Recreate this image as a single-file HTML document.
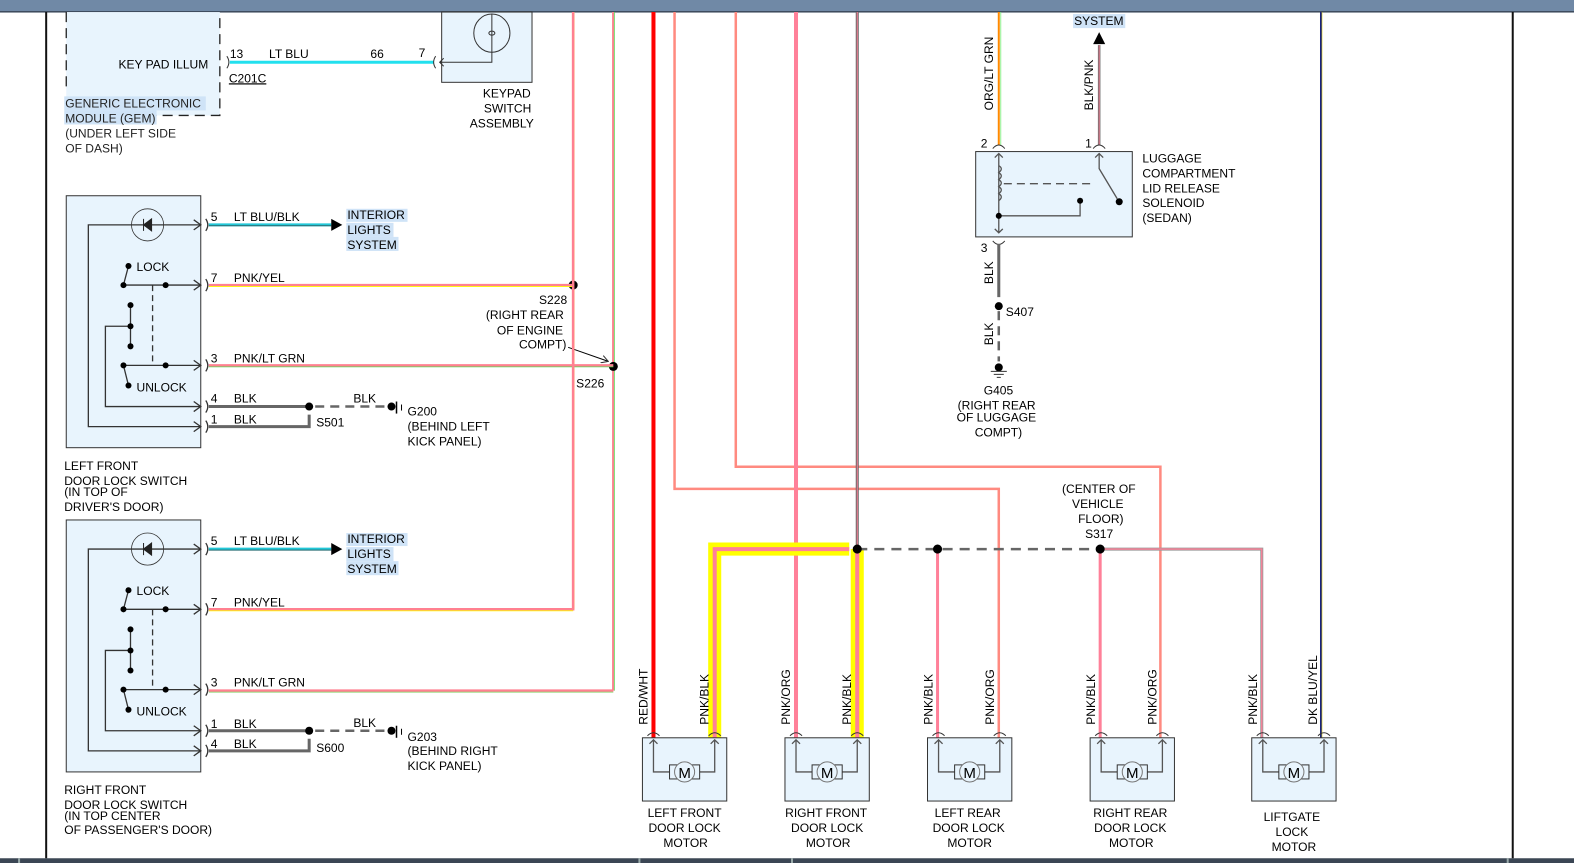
<!DOCTYPE html>
<html><head><meta charset="utf-8"><style>
html,body{margin:0;padding:0;background:#fff}
svg{display:block;font-family:"Liberation Sans",sans-serif;font-size:12px}
</style></head><body>
<svg width="1574" height="863" viewBox="0 0 1574 863" xmlns="http://www.w3.org/2000/svg">
<defs>
<marker id="ar" markerWidth="8" markerHeight="8" refX="7" refY="4" orient="auto"><path d="M0,0 L7,4 L0,8" fill="none" stroke="#333" stroke-width="1"/></marker>
</defs>
<rect width="1574" height="863" fill="#fff"/>
<g transform="scale(1.0038)">
<rect x="0" y="0" width="1574" height="12" fill="#7089a6"/>
<rect x="0" y="11" width="1574" height="1.5" fill="#3c4a5c"/>
<rect x="0" y="855" width="1574" height="10" fill="#3b4654"/>
<g stroke="#9aa" stroke-width="2"><line x1="637" y1="855" x2="637" y2="863"/><line x1="789" y1="855" x2="789" y2="863"/><line x1="1502" y1="855" x2="1502" y2="863"/><line x1="19" y1="855" x2="19" y2="863"/></g>
<line x1="46" y1="12" x2="46" y2="855" stroke="#111" stroke-width="2"/>
<line x1="1507" y1="12" x2="1507" y2="855" stroke="#111" stroke-width="2"/>
<line x1="1316" y1="12" x2="1316" y2="735" stroke="#1a237e" stroke-width="2"/>
<line x1="1317" y1="12" x2="1317" y2="735" stroke="#e0d000" stroke-width="0.6"/>

<!-- GEM -->
<rect x="66" y="12" width="153" height="103" fill="#e8f4fd"/>
<path d="M66 12 V92 M66 115 H219 V12" fill="none" stroke="#222" stroke-dasharray="10,6" stroke-width="1.3"/>
<text x="118" y="68">KEY PAD ILLUM</text>
<g fill="#222"><rect x="64" y="96" width="141" height="14" fill="#cfe3f7"/><rect x="64" y="110" width="92" height="14" fill="#cfe3f7"/>
<text x="65" y="107">GENERIC ELECTRONIC</text><text x="65" y="122">MODULE (GEM)</text><text x="65" y="137">(UNDER LEFT SIDE</text><text x="65" y="152">OF DASH)</text></g>
<line x1="229" y1="62" x2="432" y2="62" stroke="#22e0ee" stroke-width="3"/>
<path d="M226 56 q4 6 0 12 M434 56 q-4 6 0 12" fill="none" stroke="#333"/>
<text x="229" y="58">13</text><text x="268" y="58">LT BLU</text><text x="369" y="58">66</text><text x="417" y="57">7</text>
<text x="228" y="82" text-decoration="underline">C201C</text>
<rect x="440" y="12" width="90" height="70" fill="#e8f4fd" stroke="#333"/>
<ellipse cx="490" cy="33" rx="18" ry="19" fill="none" stroke="#333"/>
<path d="M490 14 V62 H438 M442 58 L438 62 L442 66" fill="none" stroke="#333"/>
<ellipse cx="490" cy="33" rx="3" ry="2" fill="none" stroke="#333"/>
<text x="481" y="97">KEYPAD</text><text x="482" y="112">SWITCH</text><text x="468" y="127">ASSEMBLY</text>

<!-- long verticals -->
<line x1="571" y1="12" x2="571" y2="607" stroke="#ff9080" stroke-width="2.5"/><line x1="572" y1="12" x2="572" y2="607" stroke="#ff0" stroke-width="0.7"/>
<line x1="611" y1="12" x2="611" y2="688" stroke="#ff8090" stroke-width="2.5"/><line x1="612" y1="12" x2="612" y2="688" stroke="#5d5" stroke-width="0.8"/>
<line x1="651" y1="12" x2="651" y2="735" stroke="#f00" stroke-width="4"/>
<path d="M672 12 V487 H995 V735" fill="none" stroke="#ff8a80" stroke-width="2.5"/>
<path d="M733 12 V465 H1156 V735" fill="none" stroke="#ff8a80" stroke-width="2.5"/>
<line x1="793" y1="12" x2="793" y2="735" stroke="#ff8099" stroke-width="4"/>
<line x1="854" y1="12" x2="854" y2="547" stroke="#666" stroke-width="3"/><line x1="854" y1="12" x2="854" y2="547" stroke="#ff8099" stroke-width="1"/>

<!-- yellow highlight -->
<path d="M846 547 H712 V735 M854 547 V735" fill="none" stroke="#ff0" stroke-width="13"/>
<path d="M846 547 H712 V735 M854 547 V735" fill="none" stroke="#ff8099" stroke-width="4"/>
<line x1="854" y1="547" x2="1096" y2="547" stroke="#666" stroke-width="2.5" stroke-dasharray="10,7"/>
<path d="M934 547 V735 M1096 547 V735" stroke="#ff8099" stroke-width="3"/>
<path d="M1100 547 H1257 V735" fill="none" stroke="#999" stroke-width="3"/><path d="M1100 547 H1257 V735" fill="none" stroke="#ff8099" stroke-width="1.3"/>
<g fill="#000"><circle cx="854" cy="547" r="4.5"/><circle cx="934" cy="547" r="4.5"/><circle cx="1096" cy="547" r="4.5"/><circle cx="571" cy="284" r="4.5"/><circle cx="611" cy="365" r="4.5"/></g>
<text x="1058" y="491">(CENTER OF</text><text x="1068" y="506">VEHICLE</text><text x="1074" y="521">FLOOR)</text><text x="1081" y="536">S317</text>
<text x="537" y="303">S228</text><text x="484" y="318">(RIGHT REAR</text><text x="495" y="333">OF ENGINE</text><text x="517" y="347">COMPT)</text>
<line x1="566" y1="346" x2="606" y2="360" stroke="#000" marker-end="url(#ar)"/>
<text x="574" y="386">S226</text>

<!-- switches -->
<g id="sw">
<rect x="66" y="195" width="134" height="251" fill="#e8f4fd" stroke="#333"/>
<g fill="none" stroke="#333" stroke-width="1.3">
<path d="M200 224 H88 V425 H200" /><path d="M200 405 H105 V325 H130"/>
<path d="M193 219 L200 224 L193 229 M193 279 L200 284 L193 289 M193 359 L200 364 L193 369 M193 400 L200 405 L193 410 M193 420 L200 425 L193 430"/>
<circle cx="147" cy="224" r="16" stroke-width="0.8"/>
<path d="M123 284 H200 M123 364 H200 M130 304 V345 M123 284 L128 265 M123 364 L128 384"/>
<path d="M152 284 V364" stroke-dasharray="6,4"/>
<path d="M205 218 q4 6 0 12 M205 278 q4 6 0 12 M205 358 q4 6 0 12 M205 399 q4 6 0 12 M205 419 q4 6 0 12"/>
</g>
<path d="M143 218 V230 M143 224 L151 218 V230 Z" fill="#222" stroke="#222"/>
<g fill="#000"><circle cx="128" cy="265" r="3"/><circle cx="123" cy="284" r="3"/><circle cx="165" cy="284" r="3"/><circle cx="130" cy="304" r="3"/><circle cx="130" cy="325" r="3"/><circle cx="130" cy="345" r="3"/><circle cx="123" cy="364" r="3"/><circle cx="165" cy="364" r="3"/><circle cx="128" cy="384" r="3"/></g>
<text x="136" y="270">LOCK</text><text x="136" y="390">UNLOCK</text>
<line x1="208" y1="224" x2="330" y2="224" stroke="#22c8d8" stroke-width="3"/><line x1="208" y1="225" x2="330" y2="225" stroke="#333" stroke-width="0.6"/>
<path d="M330 218 L341 224 L330 230 Z" fill="#000"/>
<rect x="345" y="208" width="61" height="13" fill="#cfe3f7"/><rect x="345" y="222" width="47" height="14" fill="#cfe3f7"/><rect x="345" y="236" width="52" height="14" fill="#cfe3f7"/>
<text x="346" y="218">INTERIOR</text><text x="346" y="233">LIGHTS</text><text x="346" y="248">SYSTEM</text>
<text x="210" y="220">5</text><text x="233" y="220">LT BLU/BLK</text>
<text x="210" y="281">7</text><text x="233" y="281">PNK/YEL</text>
<text x="210" y="361">3</text><text x="233" y="361">PNK/LT GRN</text>
<line x1="395" y1="400" x2="395" y2="412" stroke="#000" stroke-width="1.5"/><line x1="400" y1="403" x2="400" y2="409" stroke="#000"/>
</g>
<!-- LF specific -->
<line x1="208" y1="284" x2="571" y2="284" stroke="#ff8090" stroke-width="2.5"/><line x1="208" y1="285.5" x2="571" y2="285.5" stroke="#ff0" stroke-width="0.8"/>
<line x1="208" y1="364" x2="611" y2="364" stroke="#ff8090" stroke-width="2.5"/><line x1="208" y1="365.5" x2="611" y2="365.5" stroke="#5d5" stroke-width="0.8"/>
<path d="M208 405 H308 M208 425 H308 V413" fill="none" stroke="#666" stroke-width="3"/>
<line x1="314" y1="405" x2="390" y2="405" stroke="#666" stroke-width="2.5" stroke-dasharray="9,6"/>
<circle cx="308" cy="405" r="4" fill="#000"/><circle cx="390" cy="405" r="4" fill="#000"/>
<text x="210" y="401">4</text><text x="233" y="401">BLK</text><text x="210" y="422">1</text><text x="233" y="422">BLK</text>
<text x="352" y="401">BLK</text><text x="315" y="425">S501</text>
<text x="406" y="414">G200</text><text x="406" y="429">(BEHIND LEFT</text><text x="406" y="444">KICK PANEL)</text>
<text x="64" y="468">LEFT FRONT</text><text x="64" y="483">DOOR LOCK SWITCH</text><text x="64" y="494">(IN TOP OF</text><text x="64" y="509">DRIVER'S DOOR)</text>

<use href="#sw" transform="translate(0,323)"/>
<path d="M208 607 H571 V12" fill="none" stroke="#ff8090" stroke-width="2.5"/><line x1="208" y1="608.5" x2="571" y2="608.5" stroke="#ff0" stroke-width="0.8"/>
<path d="M208 688 H611" fill="none" stroke="#ff8090" stroke-width="2.5"/><line x1="208" y1="689.5" x2="611" y2="689.5" stroke="#7c5" stroke-width="0.8"/>
<path d="M208 728 H308 M208 748 H308 V736" fill="none" stroke="#666" stroke-width="3"/>
<line x1="314" y1="728" x2="390" y2="728" stroke="#666" stroke-width="2.5" stroke-dasharray="9,6"/>
<circle cx="308" cy="728" r="4" fill="#000"/><circle cx="390" cy="728" r="4" fill="#000"/>
<text x="210" y="725">1</text><text x="233" y="725">BLK</text><text x="210" y="745">4</text><text x="233" y="745">BLK</text>
<text x="352" y="724">BLK</text><text x="315" y="749">S600</text>
<text x="406" y="738">G203</text><text x="406" y="752">(BEHIND RIGHT</text><text x="406" y="767">KICK PANEL)</text>
<text x="64" y="791">RIGHT FRONT</text><text x="64" y="806">DOOR LOCK SWITCH</text><text x="64" y="817">(IN TOP CENTER</text><text x="64" y="831">OF PASSENGER'S DOOR)</text>

<!-- solenoid -->
<line x1="995" y1="12" x2="995" y2="145" stroke="#ff8a00" stroke-width="2"/><line x1="997" y1="12" x2="997" y2="145" stroke="#7e7" stroke-width="0.8"/>
<line x1="1095" y1="45" x2="1095" y2="145" stroke="#666" stroke-width="2.5"/><line x1="1095" y1="45" x2="1095" y2="145" stroke="#ff8099" stroke-width="0.9"/>
<path d="M1089 44 L1095 32 L1101 44 Z" fill="#000"/>
<rect x="1069" y="14" width="52" height="14" fill="#cfe3f7"/><text x="1070" y="25">SYSTEM</text>
<text transform="translate(989,110) rotate(-90)">ORG/LT GRN</text>
<text transform="translate(1089,110) rotate(-90)">BLK/PNK</text>
<rect x="972" y="151" width="156" height="85" fill="#e8f4fd" stroke="#333"/>
<path d="M989 148 q6 -7 12 0 M1089 148 q6 -7 12 0 M989 240 q6 7 12 0" fill="none" stroke="#333"/>
<text x="977" y="147">2</text><text x="1081" y="147">1</text><text x="977" y="251">3</text>
<g fill="none" stroke="#555" stroke-width="1.3">
<path d="M995 153 V232 M991 157 L995 153 L999 157 M991 228 L995 232 L999 228"/>
<path d="M995 165 q5 3 0 7 q5 3 0 7 q5 3 0 7 q5 3 0 7 q5 3 0 7"/>
<path d="M1095 153 V168 L1113 198 M1091 157 L1095 153 L1099 157"/>
<path d="M1000 183 H1088" stroke-dasharray="8,5"/>
<path d="M995 215 H1076 V200"/>
</g>
<g fill="#000"><circle cx="1076" cy="200" r="3"/><circle cx="1115" cy="201" r="3.5"/><circle cx="995" cy="215" r="3"/></g>
<text x="1138" y="162">LUGGAGE</text><text x="1138" y="177">COMPARTMENT</text><text x="1138" y="192">LID RELEASE</text><text x="1138" y="206">SOLENOID</text><text x="1138" y="221">(SEDAN)</text>
<line x1="995" y1="243" x2="995" y2="296" stroke="#666" stroke-width="3"/>
<line x1="995" y1="310" x2="995" y2="360" stroke="#666" stroke-width="2.5" stroke-dasharray="9,6"/>
<circle cx="995" cy="305" r="4" fill="#000"/><circle cx="995" cy="366" r="4" fill="#000"/>
<path d="M987 370 H1003 M990 373 H1000 M993 376 H997" stroke="#333"/>
<text transform="translate(989,283) rotate(-90)">BLK</text>
<text transform="translate(989,344) rotate(-90)">BLK</text>
<text x="1002" y="315">S407</text>
<text x="980" y="393">G405</text><text x="954" y="408">(RIGHT REAR</text><text x="953" y="420">OF LUGGAGE</text><text x="971" y="435">COMPT)</text>

<!-- motors -->
<g id="m">
<rect x="640" y="735" width="84" height="63" fill="#e8f4fd" stroke="#333"/>
<path d="M645 733 q6 -6 12 0 M706 733 q6 -6 12 0" fill="none" stroke="#333"/>
<path d="M651 737 V769 H667 M712 737 V769 H697 M647 741 L651 737 L655 741 M708 741 L712 737 L716 741" fill="none" stroke="#555" stroke-width="1.3"/>
<rect x="667" y="762" width="30" height="14" fill="none" stroke="#333"/>
<circle cx="682" cy="769" r="10" fill="#e8f4fd" stroke="#777"/>
<text x="682" y="775" text-anchor="middle" font-size="15">M</text>
</g>
<use href="#m" x="142"/><use href="#m" x="284"/><use href="#m" x="446"/><use href="#m" x="607"/>
<g>
<text transform="translate(645,722) rotate(-90)">RED/WHT</text>
<text transform="translate(706,722) rotate(-90)">PNK/BLK</text>
<text transform="translate(787,722) rotate(-90)">PNK/ORG</text>
<text transform="translate(848,722) rotate(-90)">PNK/BLK</text>
<text transform="translate(929,722) rotate(-90)">PNK/BLK</text>
<text transform="translate(990,722) rotate(-90)">PNK/ORG</text>
<text transform="translate(1091,722) rotate(-90)">PNK/BLK</text>
<text transform="translate(1152,722) rotate(-90)">PNK/ORG</text>
<text transform="translate(1252,722) rotate(-90)">PNK/BLK</text>
<text transform="translate(1312,722) rotate(-90)">DK BLU/YEL</text>
</g>
<g text-anchor="middle">
<text x="682" y="814">LEFT FRONT</text><text x="682" y="829">DOOR LOCK</text><text x="683" y="844">MOTOR</text>
<text x="823" y="814">RIGHT FRONT</text><text x="824" y="829">DOOR LOCK</text><text x="825" y="844">MOTOR</text>
<text x="964" y="814">LEFT REAR</text><text x="965" y="829">DOOR LOCK</text><text x="966" y="844">MOTOR</text>
<text x="1126" y="814">RIGHT REAR</text><text x="1126" y="829">DOOR LOCK</text><text x="1127" y="844">MOTOR</text>
<text x="1287" y="818">LIFTGATE</text><text x="1287" y="833">LOCK</text><text x="1289" y="848">MOTOR</text>
</g>
</g>
</svg>
</body></html>
